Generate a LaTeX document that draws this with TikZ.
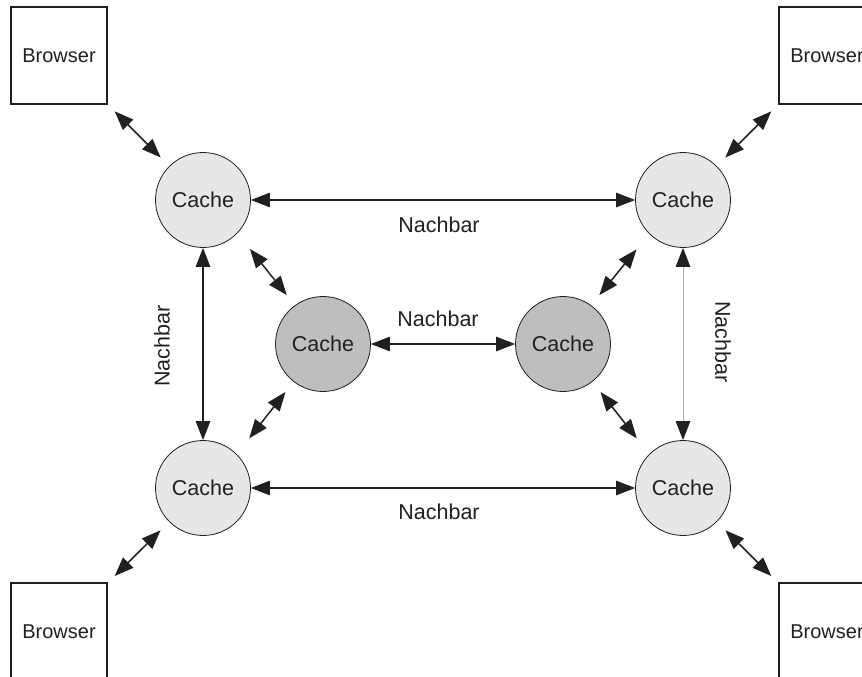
\documentclass[tikz,border=0pt]{standalone}
\usepackage{fontspec}
\setmainfont{Liberation Sans}
\usetikzlibrary{arrows.meta}
\definecolor{inkc}{HTML}{231F20}
\definecolor{cachelight}{HTML}{E6E7E8}
\definecolor{cachedark}{HTML}{BCBEC0}
\definecolor{thinline}{HTML}{A7A9AC}

\begin{document}
\begin{tikzpicture}[x=1pt,y=-1pt,
  Hd/.tip={Triangle[length=19pt,width=14.5pt,line width=1.2pt]},
  cachenode/.style={circle, draw=inkc, line width=0.8pt, minimum size=95pt,
    inner sep=0pt, font=\fontsize{21.5}{24}\selectfont, text=inkc},
  outercache/.style={cachenode, fill=cachelight},
  innercache/.style={cachenode, fill=cachedark},
  browserbox/.style={rectangle, draw=inkc, line width=1.3pt, minimum width=96pt,
    minimum height=97pt, inner sep=0pt, font=\fontsize{20}{24}\selectfont, text=inkc},
  link/.style={Hd-Hd, line width=1.5pt, draw=inkc, fill=inkc},
  thinlink/.style={{Hd[color=inkc]}-{Hd[color=inkc]}, line width=0.6pt, draw=thinline},
  lbl/.style={font=\fontsize{21.5}{24}\selectfont, text=inkc, inner sep=0pt}
]
\clip (0,0) rectangle (862,677);

% browsers in the four corners
\node[browserbox] (btl) at (59,55.5)  {Browser};
\node[browserbox] (btr) at (827,55.5) {Browser};
\node[browserbox] (bbl) at (59,631.5) {Browser};
\node[browserbox] (bbr) at (827,631.5) {Browser};

% outer ring of caches
\node[outercache] (tl) at (203,200) {Cache};
\node[outercache] (tr) at (683,200) {Cache};
\node[outercache] (bl) at (203,488) {Cache};
\node[outercache] (br) at (683,488) {Cache};

% inner pair of caches
\node[innercache] (il) at (323,344) {Cache};
\node[innercache] (ir) at (563,344) {Cache};

% browser <-> cache
\draw[link, shorten <=10pt, shorten >=12pt] (btl) -- (tl);
\draw[link, shorten <=10pt, shorten >=12pt] (btr) -- (tr);
\draw[link, shorten <=10pt, shorten >=12pt] (bbl) -- (bl);
\draw[link, shorten <=10pt, shorten >=12pt] (bbr) -- (br);

% neighbour links
\draw[link] (tl) -- (tr) node[lbl, midway, yshift=-25pt, xshift=-4pt] {Nachbar};
\draw[link] (bl) -- (br) node[lbl, midway, yshift=-24pt, xshift=-4pt] {Nachbar};
\draw[link] (il) -- (ir) node[lbl, midway, yshift=25pt, xshift=-5pt] {Nachbar};
\draw[link] (tl) -- (bl);
\node[lbl, rotate=90] (nleft) at (162,346) {Nachbar};
\draw[thinlink] (tr) -- (br);
\node[lbl, rotate=-90] (nright) at (723,342) {Nachbar};

% outer caches <-> inner caches
\draw[link, shorten <=20pt, shorten >=13pt] (tl.-44) -- (il.126);
\draw[link, shorten <=20pt, shorten >=13pt] (bl.45) -- (il.-128);
\draw[link, shorten <=20pt, shorten >=13pt] (tr.-135) -- (ir.54);
\draw[link, shorten <=20pt, shorten >=13pt] (br.135) -- (ir.-52);
\end{tikzpicture}
\end{document}
